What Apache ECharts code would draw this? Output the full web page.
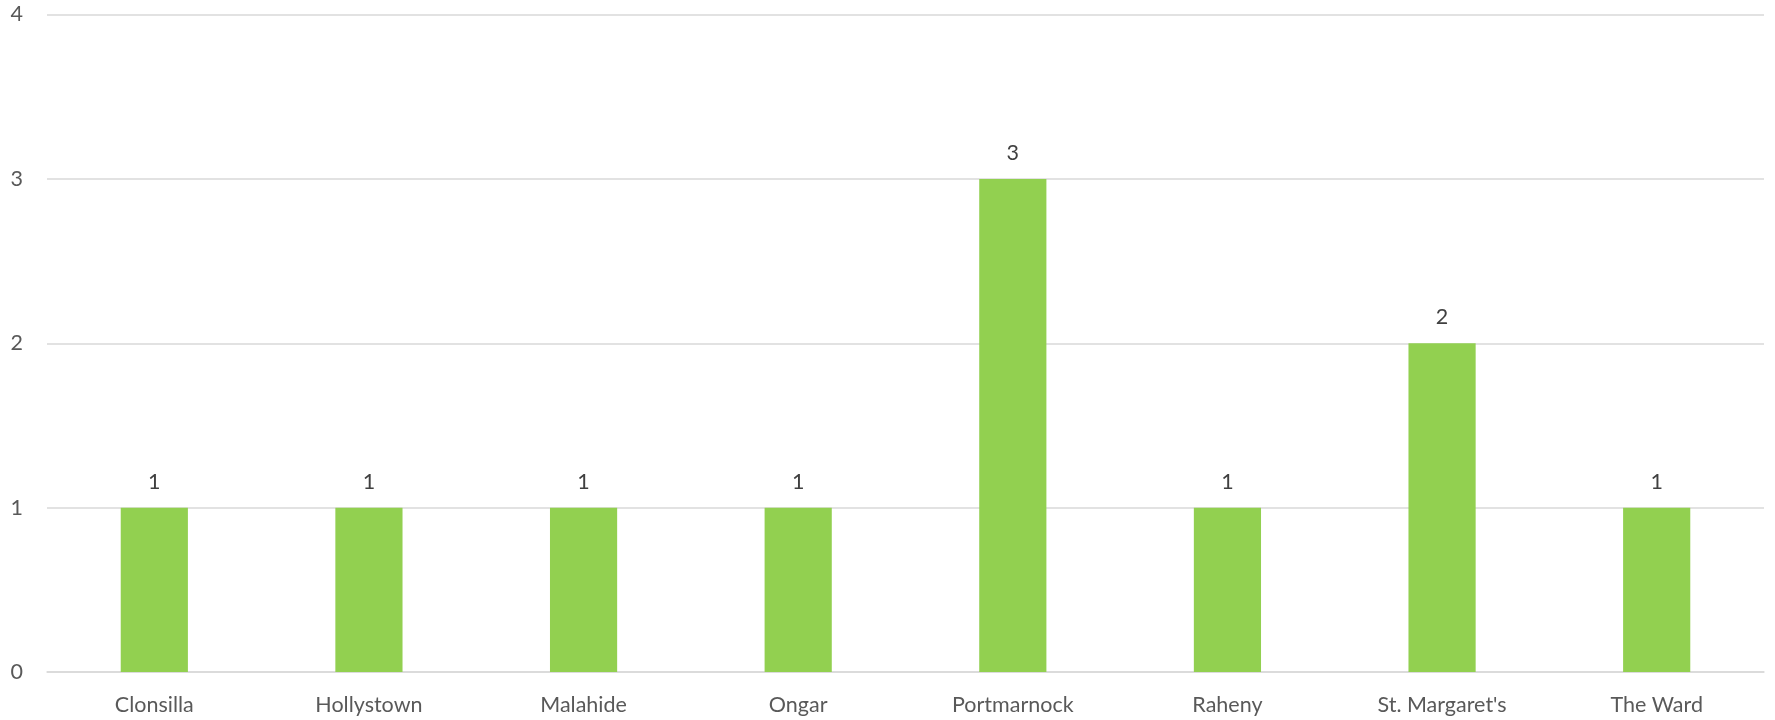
<!DOCTYPE html>
<html><head><meta charset="utf-8">
<script src="https://cdn.jsdelivr.net/npm/echarts@6/dist/echarts.min.js"></script>
<style>html,body{margin:0;padding:0;background:#fff}#c{width:1775px;height:720px}</style>
</head><body><div id="c"></div>
<script>
const categories = ["Clonsilla","Hollystown","Malahide","Ongar","Portmarnock","Raheny","St. Margaret's","The Ward"];
const values = [1,1,1,1,3,1,2,1];
const yTicks = [0,1,2,3,4];
const chart = echarts.init(document.getElementById('c'));
chart.setOption({
  animation:false,
  grid:{left:47,right:11,top:14.5,bottom:48,containLabel:false},
  xAxis:{type:'category',data:categories,
    axisLine:{show:true,lineStyle:{color:'#D9D9D9',width:1.5}},
    axisTick:{show:false},
    axisLabel:{color:'#595959',fontFamily:'Lato',fontSize:21.5,margin:22}},
  yAxis:{type:'value',min:yTicks[0],max:yTicks[yTicks.length-1],interval:1,
    axisLine:{show:false},axisTick:{show:false},
    splitLine:{lineStyle:{color:'#D9D9D9',width:1.5}},
    axisLabel:{color:'#595959',fontFamily:'Lato',fontSize:21.5,margin:24}},
  series:[{type:'bar',data:values,barWidth:'31.3%',
    itemStyle:{color:'#92D050'},
    label:{show:true,position:'top',distance:15,color:'#404040',fontFamily:'Lato',fontSize:21.5}}]
});
</script></body></html>
